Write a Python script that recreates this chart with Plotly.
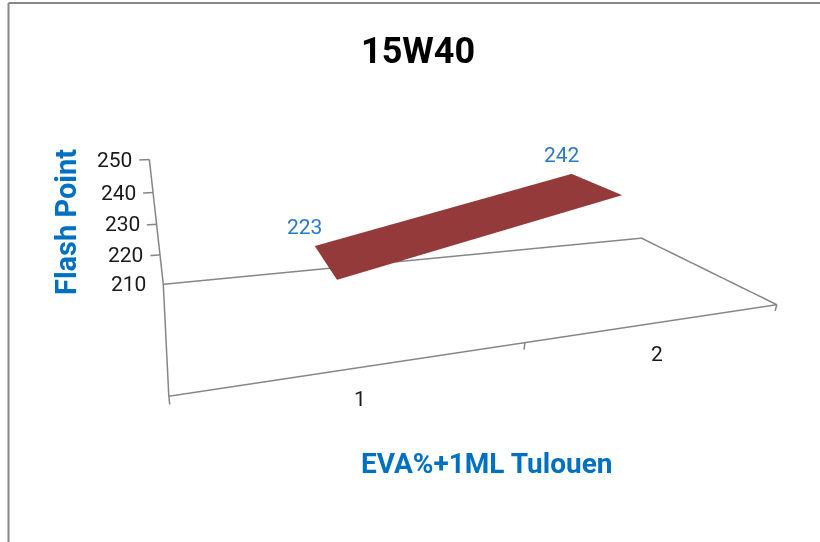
import plotly.graph_objects as go

# ---------------- data ----------------
categories = [1, 2]
category_labels = ["1", "2"]
flash_point = [223, 242]
y_ticks = [210, 220, 230, 240, 250]
chart_title = "15W40"
x_title = "EVA%+1ML Tulouen"
y_title = "Flash Point"

# ---------------- geometry / style ----------------
W, H = 820, 542
FLOOR_X = [0.5, 2.5]          # category slots (bins around 1 and 2)
FLOOR_Y = [0.0, 1.0]          # depth (front -> back)
Z0, Z1 = y_ticks[0], y_ticks[-1]
RIB_BACK, RIB_FRONT = 0.823, 0.397   # depth band of the ribbon

# camera fitted against ranges x[0.5,2.5] y[0,1] z[210,250]
FIT_RANGES = [[0.5, 2.5], [0.0, 1.0], [210.0, 250.0]]
FIT_ASP = [2.1310, 0.7727, 0.4601]
FIT_EYE = [-1.0133, -1.9749, 0.7434]
FIT_CEN = [-0.1999, 0.1340, -0.1681]
FIT_UP = [-0.0241, 0.0458, 1.0]

# ranges actually used (small padding so edges / outside ticks are not clipped)
TICK_DX = 0.03
TICK_DZ = 2.2
RANGES = [[FLOOR_X[0] - TICK_DX - 0.02, FLOOR_X[1] + 0.03],
          [FLOOR_Y[0] - 0.02, FLOOR_Y[1] + 0.02],
          [Z0 - TICK_DZ - 0.5, Z1 + 0.5]]

asp, eye, cen = [], [], []
for i in range(3):
    r_fit = FIT_RANGES[i][1] - FIT_RANGES[i][0]
    r_new = RANGES[i][1] - RANGES[i][0]
    m_fit = sum(FIT_RANGES[i]) / 2
    m_new = sum(RANGES[i]) / 2
    asp.append(FIT_ASP[i] * r_new / r_fit)
    shift = (m_fit - m_new) / r_fit * FIT_ASP[i]
    eye.append(FIT_EYE[i] + shift)
    cen.append(FIT_CEN[i] + shift)

LINE = dict(color="#868686", width=3)
TICK_FONT = dict(family="Roboto, Lato, sans-serif", size=21, color="#1a1a1a")
LABEL_FONT = dict(family="Roboto, Lato, sans-serif", size=21, color="#2A7BC4")
BLUE = "#0070C0"

fig = go.Figure()

# ribbon (3-D line)
c1, c2 = categories
v1, v2 = flash_point
fig.add_trace(go.Mesh3d(
    x=[c1, c1, c2, c2], y=[RIB_FRONT, RIB_BACK, RIB_BACK, RIB_FRONT], z=[v1, v1, v2, v2],
    i=[0, 0], j=[1, 2], k=[2, 3], color="#953A3A", flatshading=True,
    lighting=dict(ambient=1, diffuse=0, specular=0, roughness=1, fresnel=0),
    hoverinfo="skip", showscale=False))

# floor outline + vertical value axis
fig.add_trace(go.Scatter3d(
    x=[FLOOR_X[0], FLOOR_X[1], FLOOR_X[1], FLOOR_X[0], FLOOR_X[0], FLOOR_X[0]],
    y=[FLOOR_Y[1], FLOOR_Y[1], FLOOR_Y[0], FLOOR_Y[0], FLOOR_Y[1], FLOOR_Y[1]],
    z=[Z0, Z0, Z0, Z0, Z0, Z1],
    mode="lines", line=LINE, hoverinfo="skip", showlegend=False))

# value-axis tick marks
for t in y_ticks[1:]:
    fig.add_trace(go.Scatter3d(x=[FLOOR_X[0], FLOOR_X[0] - TICK_DX], y=[FLOOR_Y[1]] * 2, z=[t, t],
                               mode="lines", line=LINE, hoverinfo="skip", showlegend=False))
# category-axis tick marks (slot boundaries on the front edge)
for xb in [FLOOR_X[0], (FLOOR_X[0] + FLOOR_X[1]) / 2, FLOOR_X[1]]:
    fig.add_trace(go.Scatter3d(x=[xb, xb], y=[FLOOR_Y[0]] * 2, z=[Z0, Z0 - TICK_DZ],
                               mode="lines", line=LINE, hoverinfo="skip", showlegend=False))

scene_ann = []
for t in y_ticks:
    scene_ann.append(dict(x=FLOOR_X[0], y=FLOOR_Y[1], z=t, text=str(t), showarrow=False,
                          xanchor="right", yanchor="middle", xshift=-15, font=TICK_FONT))
for c, lab in zip(categories, category_labels):
    scene_ann.append(dict(x=c, y=FLOOR_Y[0], z=Z0, text=lab, showarrow=False,
                          xanchor="center", yanchor="middle", xshift=-4, yshift=-32, font=TICK_FONT))
for c, v in zip(categories, flash_point):
    scene_ann.append(dict(x=c, y=RIB_BACK, z=v, text=str(v), showarrow=False,
                          xanchor="center", yanchor="middle", xshift=-10, yshift=19, font=LABEL_FONT))

hidden = dict(visible=False, showbackground=False, showgrid=False, zeroline=False, showspikes=False)
fig.update_layout(
    width=W, height=H, margin=dict(l=0, r=0, t=0, b=0), paper_bgcolor="white",
    showlegend=False,
    scene=dict(
        domain=dict(x=[0, 1], y=[0, 1]),
        xaxis=dict(range=RANGES[0], **hidden),
        yaxis=dict(range=RANGES[1], **hidden),
        zaxis=dict(range=RANGES[2], **hidden),
        aspectmode="manual", aspectratio=dict(x=asp[0], y=asp[1], z=asp[2]),
        camera=dict(eye=dict(x=eye[0], y=eye[1], z=eye[2]),
                    center=dict(x=cen[0], y=cen[1], z=cen[2]),
                    up=dict(x=FIT_UP[0], y=FIT_UP[1], z=FIT_UP[2]),
                    projection=dict(type="perspective")),
        annotations=scene_ann,
    ),
)

# chart-area border (left and top edges visible in the original crop)
fig.add_shape(type="line", xref="paper", yref="paper", x0=8.5 / W, x1=8.5 / W, y0=0, y1=1 - 3 / H,
              line=dict(color="#878787", width=2))
fig.add_shape(type="line", xref="paper", yref="paper", x0=8.5 / W, x1=1, y0=1 - 3 / H, y1=1 - 3 / H,
              line=dict(color="#878787", width=2))

fig.add_annotation(x=418 / W, y=1 - 51 / H, xref="paper", yref="paper", xanchor="center", yanchor="middle",
                   text="<b>" + chart_title + "</b>", showarrow=False,
                   font=dict(family="Roboto, Lato, sans-serif", size=36, color="#000"))
fig.add_annotation(x=66 / W, y=1 - 222 / H, xref="paper", yref="paper", xanchor="center", yanchor="middle",
                   text="<b>" + y_title + "</b>", textangle=-90, showarrow=False,
                   font=dict(family="Roboto, Lato, sans-serif", size=29, color=BLUE))
fig.add_annotation(x=486 / W, y=1 - 463 / H, xref="paper", yref="paper", xanchor="center", yanchor="middle",
                   text="<b>" + x_title + "</b>", showarrow=False,
                   font=dict(family="Roboto, Lato, sans-serif", size=28, color=BLUE))

fig.write_html("out.html")
